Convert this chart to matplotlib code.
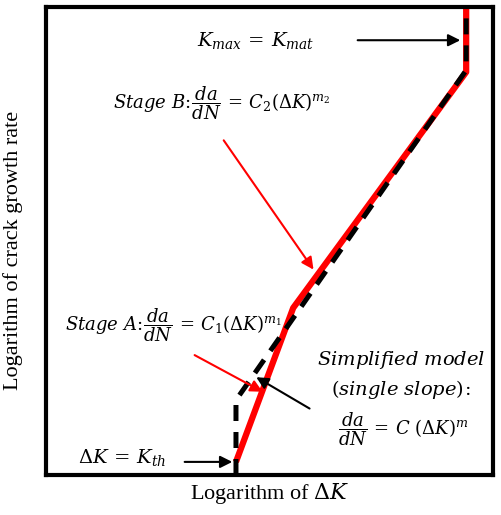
import matplotlib.pyplot as plt

plt.rcParams['mathtext.fontset'] = 'dejavuserif'
plt.rcParams['font.family'] = 'Liberation Serif'

# schematic curve, axes in arbitrary log units (0..10)
real_x = [4.25, 5.53, 9.40, 9.40]
real_y = [0.28, 3.57, 8.61, 10.0]
simple_x = [4.25, 4.25, 9.40, 9.40]
simple_y = [0.0, 1.60, 8.65, 10.0]

fig = plt.figure(figsize=(5.01, 5.15), dpi=100)
ax = fig.add_axes([46 / 501, 40 / 515, 447 / 501, 468 / 515])

ax.plot(real_x, real_y, color='#ff0000', lw=4.5, solid_capstyle='butt', zorder=2)
ax.plot(simple_x, simple_y, color='black', lw=3.6, ls=(0, (3.2, 2.2)), zorder=3)

ax.set_xlim(0, 10)
ax.set_ylim(0, 10)
ax.set_xticks([])
ax.set_yticks([])
for s in ax.spines.values():
    s.set_linewidth(3)
ax.set_xlabel(r'Logarithm of $\Delta K$', fontsize=16, labelpad=4)
ax.set_ylabel('Logarithm of crack growth rate', fontsize=16)
ax.yaxis.set_label_coords(-0.052, 0.48)

blk = dict(arrowstyle='-|>', color='black', lw=1.5, mutation_scale=18)
red = dict(arrowstyle='-|>', color='#ff0000', lw=1.5, mutation_scale=18)

ax.text(4.68, 9.29, r'$K_{max}\,=\,K_{mat}$', fontsize=14, ha='center', va='center')
ax.annotate('', xy=(9.33, 9.29), xytext=(6.91, 9.29), arrowprops=blk)

ax.text(3.94, 7.95, r'$Stage\ B\!:\!\dfrac{da}{dN}\,=\,C_2(\Delta K)^{m_2}$',
        fontsize=13, ha='center', va='center')
ax.annotate('', xy=(6.02, 4.34), xytext=(3.94, 7.20), arrowprops=red)

ax.text(2.85, 3.21, r'$Stage\ A\!:\!\dfrac{da}{dN}\,=\,C_1(\Delta K)^{m_1}$',
        fontsize=13, ha='center', va='center')
ax.annotate('', xy=(4.90, 1.75), xytext=(3.27, 2.59), arrowprops=red)

ax.text(7.94, 2.46, r'$Simplified\ model$', fontsize=14, ha='center', va='center')
ax.text(7.94, 1.82, r'$\left(single\ slope\right)\!:$', fontsize=14, ha='center', va='center')
ax.text(8.0, 0.98, r'$\dfrac{da}{dN}\,=\,C\ (\Delta K)^{m}$', fontsize=13, ha='center', va='center')
ax.annotate('', xy=(4.65, 2.12), xytext=(5.95, 1.39), arrowprops=blk)

ax.text(1.70, 0.38, r'$\Delta K\,=\,K_{th}$', fontsize=14, ha='center', va='center')
ax.annotate('', xy=(4.23, 0.28), xytext=(3.04, 0.28), arrowprops=blk)

fig.savefig('out.png', dpi=100)
